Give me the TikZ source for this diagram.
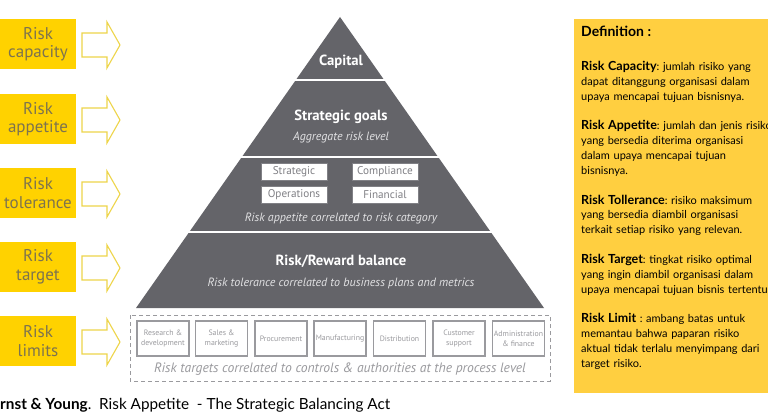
\documentclass[tikz,border=0pt]{standalone}
\usepackage{fontspec}
\setmainfont{PT Sans}
\newfontfamily\gill{Lato}
\frenchspacing
\definecolor{eyyellow}{HTML}{FFD200}
\definecolor{lbtext}{HTML}{7D734F}
\definecolor{arrowyel}{HTML}{EED54A}
\definecolor{pyrgrey}{HTML}{646469}
\definecolor{ltxt}{HTML}{E2E2E4}
\definecolor{boxtxt}{HTML}{808085}
\definecolor{procgrey}{HTML}{9A9A9E}
\definecolor{defyel}{HTML}{FFCF40}
\newcommand{\defterm}[1]{{\fontsize{12.5}{14.85}\selectfont\bfseries #1}}
\tikzset{
  leftbox/.style={fill=eyyellow, minimum width=76pt, minimum height=50pt, inner sep=0pt, align=center, text=lbtext, font=\fontsize{17}{18.5}\selectfont},
  arrowshape/.style={draw=arrowyel, line width=1.1pt, fill=white, line join=miter},
  headtxt/.style={text=white, font=\fontsize{14.7}{16}\selectfont\bfseries},
  subtxt/.style={text=ltxt, font=\fontsize{12}{13}\selectfont\itshape},
  catbox/.style={fill=white, draw=boxtxt, line width=0.4pt, minimum width=66pt, minimum height=17pt, inner sep=0pt, text=boxtxt, font=\fontsize{11.2}{12}\selectfont},
  procbox/.style={fill=white, draw=procgrey, line width=1.1pt, minimum width=52pt, minimum height=35pt, inner sep=0pt, align=center, text=procgrey, font=\fontsize{7.8}{9.6}\selectfont},
}
\begin{document}
\begin{tikzpicture}[x=1pt,y=-1pt]
\clip (0,0) rectangle (768,417);
\fill[white] (0,0) rectangle (768,417);

% left boxes and arrows
\foreach \cy/\txt/\nm in {44/{Risk\\capacity}/lb1, 119/{Risk\\appetite}/lb2, 193/{Risk\\tolerance}/lb3, 267/{Risk\\target}/lb4, 341/{Risk\\limits}/lb5}{
  \node[leftbox] (\nm) at (38,\cy) {\txt};
  \draw[arrowshape] (82,\cy+13) -- (82,\cy-11) -- (107,\cy-11) -- (107,\cy-22) -- (120,\cy+1) -- (107,\cy+24) -- (107,\cy+13) -- cycle;
}

% pyramid
\fill[pyrgrey] (340,17) -- (544,308) -- (136,308) -- cycle;
\draw[white, line width=2.2pt] (250,80) -- (430,80);
\draw[white, line width=2.2pt] (200,157) -- (480,157);
\draw[white, line width=2.2pt] (150,232) -- (530,232);

\node[headtxt] (cap) at (341,62) {Capital};
\node[headtxt] (sg) at (341,117) {Strategic goals};
\node[subtxt] (agg) at (341,138) {Aggregate risk level};
\node[catbox] (c1) at (294,172) {Strategic};
\node[catbox] (c2) at (385,172) {Compliance};
\node[catbox] (c3) at (294,194.5) {Operations};
\node[catbox] (c4) at (385,194.5) {Financial};
\node[subtxt] (rac) at (341,219) {Risk appetite correlated to risk category};
\node[headtxt] (rr) at (341,261) {Risk/Reward balance};
\node[subtxt] (rtc) at (341,283) {Risk tolerance correlated to business plans and metrics};

% process level
\draw[procgrey, line width=1pt, dash pattern=on 4pt off 3pt] (130,315) rectangle (550,381);
\foreach \cx/\txt/\nm in {163/{Research \&\\development}/p1, 221.5/{Sales \&\\marketing}/p2, 281/{Procurement}/p3, 340/{Manufacturing}/p4, 399.5/{Distribution}/p5, 459/{Customer\\support}/p6, 518.5/{Administration\\\& finance}/p7}{
  \node[procbox] (\nm) at (\cx,338.5) {\txt};
}
\node[text=procgrey, font=\fontsize{13.6}{14}\selectfont\itshape] (rt) at (340,369) {Risk targets correlated to controls \& authorities at the process level};

% caption
\node[anchor=west, inner sep=0pt, font=\gill\fontsize{15.3}{16}\selectfont] (capt) at (0,405) {\textbf{rnst \& Young}.\ \ Risk Appetite\ \ - The Strategic Balancing Act};

% definition box
\fill[defyel] (574,19) rectangle (780,393);
\node[anchor=north west, inner sep=0pt, align=left, text width=260pt, font=\gill\fontsize{11}{14.85}\selectfont] (def) at (581,26) {%
{\fontsize{14}{14.85}\selectfont\bfseries Definition :}\\[19pt]
\defterm{Risk Capacity}: jumlah risiko yang\\
dapat ditanggung organisasi dalam\\
upaya mencapai tujuan bisnisnya.\\[14.85pt]
\defterm{Risk Appetite}: jumlah dan jenis risiko\\
yang bersedia diterima organisasi\\
dalam upaya mencapai tujuan\\
bisnisnya.\\[14.85pt]
\defterm{Risk Tollerance}: risiko maksimum\\
yang bersedia diambil organisasi\\
terkait setiap risiko yang relevan.\\[14.85pt]
\defterm{Risk Target}: tingkat risiko optimal\\
yang ingin diambil organisasi dalam\\
upaya mencapai tujuan bisnis tertentu\\[14.85pt]
\defterm{Risk Limit} : ambang batas untuk\\
memantau bahwa paparan risiko\\
aktual tidak terlalu menyimpang dari\\
target risiko.};
\end{tikzpicture}
\end{document}
